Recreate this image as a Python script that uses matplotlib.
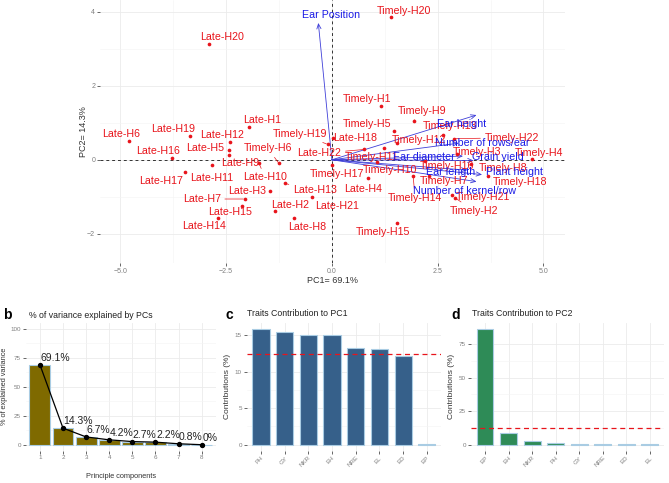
import matplotlib
matplotlib.use("Agg")
import matplotlib.pyplot as plt
import numpy as np

plt.rcParams['font.family'] = ['Liberation Sans', 'DejaVu Sans']

# ---------------- data ----------------
late_names = [f"Late-H{i}" for i in range(1, 23)]
late_pc1 = [-1.96, -1.34, -1.46, 0.86, -2.44, -4.80, -2.06, -0.89, -2.43, -1.72, -2.84,
            -2.40, -1.11, -2.70, -2.13, -3.79, -3.47, 0.03, -3.36, -2.91, -0.46, 0.77]
late_pc2 = [0.90, -1.39, -0.84, -0.49, 0.26, 0.51, -1.06, -1.56, 0.13, -0.10, -0.14,
            0.49, -0.64, -1.57, -1.26, 0.06, -0.32, 0.60, 0.64, 3.14, -1.01, 0.28]
timely_names = [f"Timely-H{i}" for i in range(1, 23)]
timely_pc1 = [1.17, 2.90, 2.95, 4.73, 1.47, -1.25, 2.30, 3.30, 1.93, 1.06, 1.24,
              1.53, 2.63, 1.92, 1.53, 2.20, 0.00, 3.70, -0.10, 1.39, 2.84, 2.88]
timely_pc2 = [1.45, -1.02, 0.15, 0.02, 0.78, -0.10, -0.45, -0.12, 1.05, -0.07, 0.32,
              0.46, 0.66, -0.43, -1.71, -0.02, -0.13, -0.43, 0.42, 3.86, -0.95, 0.57]

trait_names = ["Ear Position", "Ear height", "Number of rows/ear", "Ear diameter",
               "Grain yield", "Ear length", "Plant height", "Number of kernel/row"]
trait_pc1 = [-0.32, 3.42, 3.00, 3.10, 3.35, 3.20, 3.55, 3.42]
trait_pc2 = [3.70, 1.21, 0.45, 0.10, -0.02, -0.28, -0.40, -0.59]

pc_labels = ["1", "2", "3", "4", "5", "6", "7", "8"]
var_explained = [69.1, 14.3, 6.7, 4.2, 2.7, 2.2, 0.8, 0.0]
var_text = ["69.1%", "14.3%", "6.7%", "4.2%", "2.7%", "2.2%", "0.8%", "0%"]

pc1_traits = ["PH", "GY", "NKR", "EH", "NRE", "EL", "ED", "EP"]
pc1_contrib = [15.9, 15.5, 15.1, 15.0, 13.3, 13.2, 12.2, 0.05]
pc2_traits = ["EP", "EH", "NKR", "PH", "GY", "NRE", "ED", "EL"]
pc2_contrib = [86.5, 9.0, 3.0, 1.5, 0.3, 0.2, 0.2, 0.2]
expected_contrib = 12.5

# ---------------- layout helpers ----------------
W, H = 669, 483
fig = plt.figure(figsize=(W / 100, H / 100), dpi=100)


def add_ax(left, top, right, bottom):
    return fig.add_axes([left / W, 1 - bottom / H, (right - left) / W, (bottom - top) / H])


GRID = "#EBEBEB"
MINOR = "#F4F4F4"
TICKC = "#4D4D4D"


def minimal(ax, fs=5):
    for s in ax.spines.values():
        s.set_visible(False)
    ax.set_facecolor("white")
    ax.grid(True, which="major", color=GRID, lw=0.6)
    ax.grid(True, which="minor", color=MINOR, lw=0.4)
    ax.set_axisbelow(True)
    ax.tick_params(axis="both", which="major", colors=TICKC, labelsize=fs, length=2, width=0.6, pad=1.5)
    ax.tick_params(axis="both", which="minor", length=0)
    for lbl in ax.get_xticklabels() + ax.get_yticklabels():
        lbl.set_color("#7F7F7F")


# ---------------- biplot ----------------
ax = add_ax(100, 0, 565, 263)
ax.set_xlim(-5.48, 5.51)
ax.set_ylim(-2.79, 4.32)
ax.set_xticks([-5.0, -2.5, 0.0, 2.5, 5.0])
ax.set_xticks([-3.75, -1.25, 1.25, 3.75], minor=True)
ax.set_yticks([-2, 0, 2, 4])
ax.set_yticks([-1, 1, 3], minor=True)
minimal(ax, fs=5)
ax.axhline(0, color="#333333", lw=0.7, ls=(0, (3, 3)))
ax.axvline(0, color="#333333", lw=0.7, ls=(0, (3, 3)))
ax.set_xlabel("PC1= 69.1%", fontsize=6.5, color="#333333", labelpad=1)
ax.set_ylabel("PC2= 14.3%", fontsize=6.5, color="#333333", labelpad=-1)

# label offsets in pixels (layout only)
offs = {
    "Late-H1": (13, 7), "Late-H2": (15, 6), "Late-H3": (-23, 0), "Late-H4": (-5, -11),
    "Late-H5": (-24, 2), "Late-H6": (-8, 7), "Late-H7": (-43, 0), "Late-H8": (13, -9),
    "Late-H9": (11, -8), "Late-H10": (6, -14), "Late-H11": (0, -13), "Late-H12": (-8, 7),
    "Late-H13": (30, -7), "Late-H14": (-14, -8), "Late-H15": (-12, -6), "Late-H16": (-13, 7),
    "Late-H17": (-24, -9), "Late-H18": (22, 0), "Late-H19": (-17, 7), "Late-H20": (13, 7),
    "Late-H21": (25, -9), "Late-H22": (-45, -4),
    "Timely-H1": (-14, 7), "Timely-H2": (19, -13), "Timely-H3": (20, 2), "Timely-H4": (7, 6),
    "Timely-H5": (-27, 7), "Timely-H6": (-11, 15), "Timely-H7": (15, -5), "Timely-H8": (32, -4),
    "Timely-H9": (9, 10), "Timely-H10": (13, -8), "Timely-H11": (-13, -9), "Timely-H12": (22, 3),
    "Timely-H13": (7, 9), "Timely-H14": (2, -22), "Timely-H15": (-14, -9), "Timely-H16": (22, -5),
    "Timely-H17": (5, -9), "Timely-H18": (32, -6), "Timely-H19": (-28, 10), "Timely-H20": (13, 6),
    "Timely-H21": (31, -2), "Timely-H22": (58, 1),
}
connect = {"Late-H7", "Late-H10", "Late-H13", "Late-H22", "Timely-H2", "Timely-H6",
           "Timely-H9", "Timely-H14", "Timely-H19", "Timely-H22", "Timely-H13", "Late-H9"}

RED = "#E8141B"
BLUE = "#1A1AE6"

# arrows
for nm, x, y in zip(trait_names, trait_pc1, trait_pc2):
    ax.annotate("", xy=(x, y), xytext=(0, 0),
                arrowprops=dict(arrowstyle="->,head_length=0.35,head_width=0.15",
                                color="#3F3FD8", lw=0.6, shrinkA=0, shrinkB=0))

all_names = late_names + timely_names
all_x = late_pc1 + timely_pc1
all_y = late_pc2 + timely_pc2
ax.scatter(all_x, all_y, s=7, color=RED, zorder=3, linewidths=0)
for nm, x, y in zip(all_names, all_x, all_y):
    dx, dy = offs[nm]
    ap = None
    if nm in connect:
        ap = dict(arrowstyle="-", color=RED, lw=0.5, shrinkA=1, shrinkB=1)
    ax.annotate(nm, xy=(x, y), xytext=(dx, dy), textcoords="offset pixels",
                ha="center", va="center", fontsize=7.7, color=RED, arrowprops=ap, zorder=4)

arr_offs = {"Ear Position": (13, 8), "Ear height": (-15, -9), "Number of rows/ear": (23, 0),
            "Ear diameter": (-39, -1), "Grain yield": (24, 4), "Ear length": (-17, -2),
            "Plant height": (32, 3), "Number of kernel/row": (-12, -9)}
for nm, x, y in zip(trait_names, trait_pc1, trait_pc2):
    dx, dy = arr_offs[nm]
    ax.annotate(nm, xy=(x, y), xytext=(dx, dy), textcoords="offset pixels",
                ha="center", va="center", fontsize=7.7, color=BLUE, zorder=5)

# ---------------- panel b ----------------
axb = add_ax(26, 323, 215.6, 450.5)
xb = np.arange(1, len(var_explained) + 1)
axb.bar(xb, var_explained, width=0.9, color="#7F6A00", edgecolor="#A9CCE3", lw=0.8, zorder=2)
axb.plot(xb, var_explained, color="black", lw=0.9, zorder=3)
axb.scatter(xb, var_explained, color="black", s=8, zorder=4)
for x, v, t in zip(xb, var_explained, var_text):
    axb.text(x + 0.02, v + 1.5, t, ha="left", va="bottom", fontsize=7.5, color="#222222", zorder=5)
axb.set_xlim(0.4, 8.6)
axb.set_ylim(-5, 105)
axb.set_xticks(xb)
axb.set_xticklabels(pc_labels)
axb.set_yticks([0, 25, 50, 75, 100])
axb.set_yticks([12.5, 37.5, 62.5, 87.5], minor=True)
minimal(axb, fs=4.5)
axb.grid(False, axis="x", which="minor")
axb.set_xlabel("Principle components", fontsize=5.3, color="#333333", labelpad=9)
axb.set_ylabel("% of explained variance", fontsize=5.3, color="#333333", labelpad=2)
fig.text(3 / W, 1 - 315 / H, "b", fontsize=10, fontweight="bold", va="center", ha="left")
fig.text(29 / W, 1 - 315 / H, "% of variance explained by PCs", fontsize=6.3, va="center", ha="left",
         color="#222222")

# ---------------- panel c ----------------
axc = add_ax(246.8, 323, 440.9, 450.5)
xc = np.arange(1, len(pc1_contrib) + 1)
axc.bar(xc, pc1_contrib, width=0.72, color="#36608A", edgecolor="#A9CCE3", lw=0.8, zorder=2)
axc.axhline(expected_contrib, color="#E8141B", lw=0.9, ls=(0, (4, 3)), zorder=3)
axc.set_xlim(0.4, 8.6)
axc.set_ylim(-0.8, 16.7)
axc.set_xticks(xc)
axc.set_xticklabels(pc1_traits, rotation=45, ha="right", va="top", rotation_mode="anchor")
axc.set_yticks([0, 5, 10, 15])
axc.set_yticks([2.5, 7.5, 12.5], minor=True)
minimal(axc, fs=4.5)
axc.set_ylabel("Contributions (%)", fontsize=6, color="#333333", labelpad=3)
fig.text(226 / W, 1 - 315 / H, "c", fontsize=10, fontweight="bold", va="center", ha="left")
fig.text(247 / W, 1 - 313 / H, "Traits Contribution to PC1", fontsize=6.3, va="center", ha="left",
         color="#222222")

# ---------------- panel d ----------------
axd = add_ax(470.9, 323, 663.8, 450.5)
xd = np.arange(1, len(pc2_contrib) + 1)
axd.bar(xd, pc2_contrib, width=0.72, color="#2E8B57", edgecolor="#A9CCE3", lw=0.8, zorder=2)
axd.axhline(expected_contrib, color="#E8141B", lw=0.9, ls=(0, (4, 3)), zorder=3)
axd.set_xlim(0.4, 8.6)
axd.set_ylim(-4.3, 90.8)
axd.set_xticks(xd)
axd.set_xticklabels(pc2_traits, rotation=45, ha="right", va="top", rotation_mode="anchor")
axd.set_yticks([0, 25, 50, 75])
axd.set_yticks([12.5, 37.5, 62.5], minor=True)
minimal(axd, fs=4.5)
axd.set_ylabel("Contributions (%)", fontsize=6, color="#333333", labelpad=3)
fig.text(451 / W, 1 - 315 / H, "d", fontsize=10, fontweight="bold", va="center", ha="left")
fig.text(472 / W, 1 - 313 / H, "Traits Contribution to PC2", fontsize=6.3, va="center", ha="left",
         color="#222222")

fig.savefig("out.png", dpi=100, facecolor="white")
